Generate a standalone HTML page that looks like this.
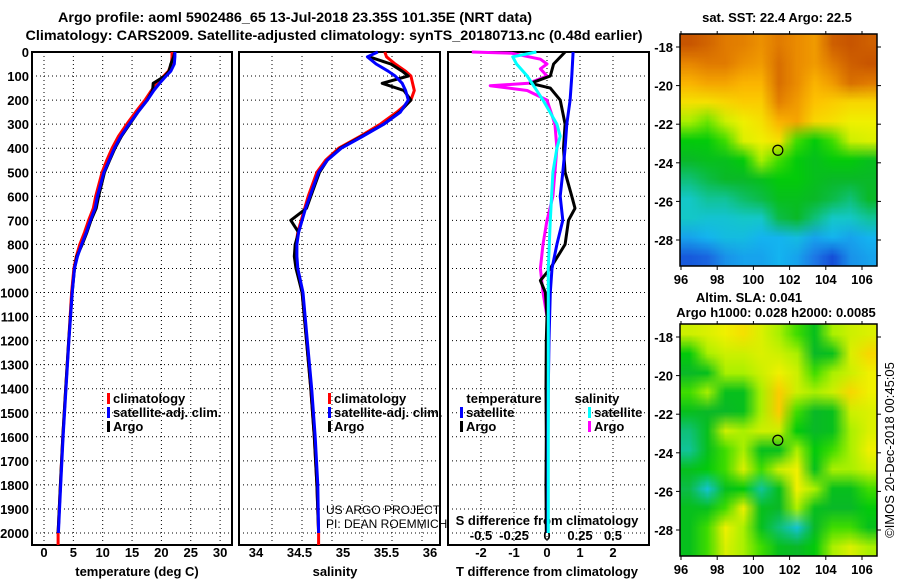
<!DOCTYPE html>
<html><head><meta charset="utf-8"><style>
body{margin:0;background:#fff;width:900px;height:580px;overflow:hidden;position:relative}
svg{position:absolute;left:0;top:0}
canvas{position:absolute}
text{font-family:"Liberation Sans",sans-serif;font-weight:bold;fill:#000}
</style></head><body>
<canvas id="m1" width="197" height="232" style="left:680px;top:34px"></canvas>
<canvas id="m2" width="197" height="232" style="left:680px;top:324px"></canvas>
<svg id="s" width="900" height="580"></svg>
<script>
const depths=[0,20,50,80,100,130,160,200,250,300,350,400,450,500,600,650,700,750,800,850,900,1000,1200,1400,1600,1800,2000];
const tClim=[21.8,21.8,21.7,21.2,20.4,19.3,18.3,17.2,15.6,14.1,12.7,11.6,10.7,9.9,8.8,8.4,7.6,6.9,6.1,5.5,5.1,4.7,4.2,3.7,3.2,2.8,2.4];
const tSat=[22.3,22.3,22.2,21.6,20.8,19.7,18.7,17.6,16.0,14.5,13.1,12.0,11.1,10.2,9.1,8.7,7.9,7.2,6.4,5.7,5.2,4.8,4.25,3.75,3.25,2.85,2.45];
const tArgo=[22.3,22.1,21.6,21.3,20.6,18.6,18.5,17.6,16.0,14.6,13.2,12.1,11.2,10.3,9.3,8.9,8.0,7.3,6.5,5.6,5.2,4.8,4.2,3.7,3.2,2.8,2.4];
const sClim=[35.48,35.5,35.6,35.72,35.78,35.8,35.82,35.78,35.62,35.43,35.2,34.95,34.8,34.7,34.6,34.56,34.52,34.48,34.46,34.46,34.47,34.53,34.58,34.63,34.67,34.7,34.72];
const sSat=[35.4,35.28,35.38,35.52,35.6,35.68,35.72,35.75,35.66,35.47,35.23,34.98,34.82,34.72,34.62,34.57,34.53,34.49,34.47,34.47,34.48,34.54,34.59,34.64,34.68,34.71,34.72];
const sArgo=[34.93,35.3,35.55,35.68,35.75,35.45,35.7,35.78,35.65,35.47,35.22,34.97,34.82,34.73,34.63,34.58,34.4,34.49,34.45,34.44,34.46,34.53,34.58,34.63,34.67,34.7,34.72];
const dTSat=[0,100,200,300,400,500,600,700,800,900,1000,1200,1400,1600,1800,2000];
const tSatDiff=[0.79,0.75,0.7,0.6,0.55,0.48,0.4,0.48,0.3,0.15,0.1,0.06,0.04,0.03,0.03,0.03];
const dTArgo=[0,50,100,130,150,200,300,400,500,600,650,700,800,900,950,1000,1100,1200,1400,1600,1800,2000];
const tArgoDiff=[0.55,0.2,0.1,-0.5,0.1,0.4,0.55,0.5,0.55,0.75,0.85,0.65,0.55,0.1,-0.2,-0.05,0,-0.02,-0.03,-0.02,-0.03,-0.02];
const dSSat=[0,20,50,100,200,300,350,400,500,600,700,900,1000,1200,2000];
const sSatDiff=[-0.08,-0.26,-0.23,-0.15,-0.03,0.075,0.1,0.075,0.045,0.035,0.025,0.01,0.01,0.01,0.01];
const dSArgo=[0,5,30,50,70,100,130,140,160,200,300,400,500,600,700,800,900,1000,1100,2000];
const sArgoDiff=[-0.57,-0.27,-0.05,0,-0.05,0,-0.14,-0.43,-0.15,0,0.06,0.075,0.06,0.045,0,-0.03,-0.05,-0.03,0,0];
const depthTicks=[0,100,200,300,400,500,600,700,800,900,1000,1100,1200,1300,1400,1500,1600,1700,1800,1900,2000];
const tTicks=[0,5,10,15,20,25,30];
const sTicks=[34,34.5,35,35.5,36];
const dtTicks=[-2,-1,0,1,2];
const dsTicks=[-0.5,-0.25,0,0.25,0.5];
const lonTicks=[96,98,100,102,104,106];
const latTicks=[-18,-20,-22,-24,-26,-28];
const sstGrid=[
[0.95,0.92,0.88,0.87,0.84,0.88,0.85,0.82,0.93,0.95,0.93],
[0.86,0.88,0.88,0.84,0.82,0.9,0.85,0.82,0.88,0.93,0.95],
[0.77,0.8,0.8,0.77,0.77,0.9,0.85,0.77,0.82,0.9,0.88],
[0.68,0.68,0.7,0.72,0.72,0.87,0.82,0.74,0.72,0.7,0.7],
[0.55,0.52,0.6,0.65,0.68,0.77,0.8,0.7,0.68,0.65,0.65],
[0.45,0.45,0.5,0.62,0.65,0.68,0.5,0.45,0.5,0.6,0.62],
[0.4,0.42,0.42,0.45,0.55,0.5,0.45,0.42,0.45,0.45,0.42],
[0.35,0.38,0.4,0.4,0.42,0.45,0.45,0.42,0.4,0.4,0.4],
[0.3,0.33,0.33,0.36,0.38,0.42,0.42,0.4,0.38,0.35,0.4],
[0.3,0.28,0.28,0.3,0.3,0.38,0.4,0.35,0.3,0.3,0.33],
[0.2,0.22,0.25,0.25,0.22,0.22,0.25,0.2,0.22,0.2,0.22],
[0.1,0.12,0.18,0.2,0.2,0.22,0.2,0.15,0.08,0.18,0.2]];
const slaGrid=[
[0.6,0.62,0.65,0.68,0.62,0.55,0.5,0.42,0.55,0.6,0.62],
[0.45,0.55,0.6,0.6,0.62,0.6,0.55,0.4,0.42,0.62,0.7],
[0.4,0.42,0.55,0.55,0.6,0.65,0.6,0.5,0.55,0.6,0.65],
[0.5,0.55,0.42,0.42,0.55,0.72,0.6,0.55,0.6,0.7,0.65],
[0.42,0.4,0.4,0.42,0.55,0.72,0.5,0.4,0.42,0.6,0.62],
[0.35,0.42,0.6,0.55,0.6,0.6,0.45,0.4,0.42,0.55,0.62],
[0.33,0.42,0.5,0.55,0.42,0.42,0.55,0.45,0.5,0.55,0.65],
[0.42,0.45,0.5,0.62,0.5,0.6,0.65,0.42,0.55,0.55,0.6],
[0.38,0.28,0.42,0.45,0.33,0.42,0.65,0.55,0.42,0.42,0.5],
[0.42,0.42,0.5,0.65,0.42,0.4,0.55,0.42,0.4,0.4,0.45],
[0.42,0.5,0.65,0.55,0.42,0.35,0.28,0.4,0.5,0.5,0.42],
[0.42,0.5,0.62,0.55,0.5,0.42,0.4,0.45,0.55,0.62,0.55]];
const floatLon=101.35, floatLat=-23.35;

const NS='http://www.w3.org/2000/svg';
const svg=document.getElementById('s');
function el(tag,attrs,parent){const e=document.createElementNS(NS,tag);for(const k in attrs)e.setAttribute(k,attrs[k]);(parent||svg).appendChild(e);return e;}
function txt(x,y,s,size,anchor,extra){const t=el('text',Object.assign({x:x,y:y,'font-size':size,'text-anchor':anchor||'middle'},extra||{}));t.textContent=s;return t;}
const yD=d=>52+d*0.2405;
const xT=v=>44+v*5.87;
const xS=v=>256+(v-34)*87;
const xDT=v=>547+v*33;
const xDS=v=>547+v*132;

let t;
t=txt(295,22,'Argo profile: aoml 5902486_65 13-Jul-2018 23.35S 101.35E (NRT data)',14,'middle',{textLength:474,lengthAdjust:'spacingAndGlyphs'});

t=txt(334,40,'Climatology: CARS2009. Satellite-adjusted climatology: synTS_20180713.nc (0.48d earlier)',14,'middle',{textLength:617,lengthAdjust:'spacingAndGlyphs'});


const panels=[{x0:32,x1:232,name:'temperature-panel'},{x0:239,x1:440,name:'salinity-panel'},{x0:448,x1:649,name:'difference-panel'}];
const grids=[tTicks.map(xT),[272,302,332,362,392,422],dtTicks.map(xDT)];
panels.forEach((p,i)=>{
  const g=el('g',{});
  
  
  depthTicks.forEach(d=>{if(d>0)el('line',{x1:p.x0,x2:p.x1,y1:yD(d),y2:yD(d),stroke:'#000','stroke-width':1,'stroke-dasharray':'1,3'},g);});
  grids[i].forEach(x=>el('line',{x1:x,x2:x,y1:52,y2:545,stroke:'#000','stroke-width':1,'stroke-dasharray':'1,3'},g));
  el('rect',{x:p.x0,y:52,width:p.x1-p.x0,height:493,fill:'none',stroke:'#000','stroke-width':2},g);
});
depthTicks.forEach(d=>{
  t=txt(29,yD(d)+5,String(d),13,'end');
  
  
});
tTicks.forEach(v=>{t=txt(xT(v),557,String(v),13);});
sTicks.forEach(v=>{t=txt(xS(v),557,String(v),13);});
dtTicks.forEach(v=>{t=txt(xDT(v),557,String(v),13);});
dsTicks.forEach(v=>{t=txt(xDS(v),540,String(v),13);});
t=txt(137,576,'temperature (deg C)',13);
t=txt(335,576,'salinity',13);
t=txt(547,576,'T difference from climatology',13);
t=txt(547,525,'S difference from climatology',13);

function line(xs,ds,xf,color,name){
  const pts=xs.map((v,i)=>xf(v).toFixed(1)+','+yD(ds[i]).toFixed(1)).join(' ');
  const l=el('polyline',{points:pts,fill:'none',stroke:color,'stroke-width':3,'stroke-linejoin':'round'});
  
  
  return l;
}
const dExt=depths.concat([2050]);
line(tClim.concat([tClim[tClim.length-1]]),dExt,xT,'#ff0000','temperature-climatology-line');
line(tArgo,depths,xT,'#000','temperature-argo-line');
line(tSat,depths,xT,'#0000ff','temperature-satellite-line');
line(sClim.concat([sClim[sClim.length-1]]),dExt,xS,'#ff0000','salinity-climatology-line');
line(sArgo.slice(1),depths.slice(1),xS,'#000','salinity-argo-line');
line(sSat,depths,xS,'#0000ff','salinity-satellite-line');
line(sArgoDiff,dSArgo,xDS,'#ff00ff','s-diff-argo-line');
line(tArgoDiff,dTArgo,xDT,'#000','t-diff-argo-line');
line(tSatDiff,dTSat,xDT,'#0000ff','t-diff-satellite-line');
line(sSatDiff,dSSat,xDS,'#00ffff','s-diff-satellite-line');

function legend(x,y,color,label,name){
  const g=el('g',{});
  
  
  el('rect',{x:x,y:y-10,width:3,height:11,fill:color},g);
  const tt=el('text',{x:x+6,y:y,'font-size':13},g);tt.textContent=label;
}
legend(107,403,'#ff0000','climatology','legend-climatology');
legend(107,417,'#0000ff','satellite-adj. clim.','legend-satellite-adj');
legend(107,431,'#000','Argo','legend-argo');
legend(328,403,'#ff0000','climatology','legend-climatology-s');
legend(328,417,'#0000ff','satellite-adj. clim.','legend-satellite-adj-s');
legend(328,431,'#000','Argo','legend-argo-s');
t=txt(504,403,'temperature',13);
legend(460,417,'#0000ff','satellite','legend-t-satellite');
legend(460,431,'#000','Argo','legend-t-argo');
t=txt(597,403,'salinity',13);
legend(588,417,'#00ffff','satellite','legend-s-satellite');
legend(588,431,'#ff00ff','Argo','legend-s-argo');
t=txt(326,514,'US ARGO PROJECT',12,'start',{style:'font-weight:normal'});
t=txt(326,528,'PI: DEAN ROEMMICH',12,'start',{style:'font-weight:normal'});

const stops=[[0,[10,30,200]],[0.15,[30,120,230]],[0.22,[20,180,240]],[0.3,[20,200,200]],[0.4,[10,185,40]],[0.47,[0,210,0]],[0.55,[170,240,0]],[0.65,[240,240,0]],[0.75,[255,190,0]],[0.85,[235,140,0]],[0.95,[200,85,0]],[1,[180,60,0]]];
function cmap(v){for(let i=1;i<stops.length;i++){if(v<=stops[i][0]){const a=stops[i-1],b=stops[i],f=(v-a[0])/(b[0]-a[0]);return a[1].map((c,k)=>Math.round(c+(b[1][k]-c)*f));}}return stops[stops.length-1][1];}
function drawMap(id,grid){
  const small=document.createElement('canvas');small.width=grid[0].length;small.height=grid.length;
  const sc=small.getContext('2d');const im=sc.createImageData(small.width,small.height);
  grid.forEach((row,r)=>row.forEach((v,c)=>{const col=cmap(v),o=(r*small.width+c)*4;im.data[o]=col[0];im.data[o+1]=col[1];im.data[o+2]=col[2];im.data[o+3]=255;}));
  sc.putImageData(im,0,0);
  const ctx=document.getElementById(id).getContext('2d');ctx.imageSmoothingEnabled=true;ctx.drawImage(small,0,0,197,232);
}
drawMap('m1',sstGrid);drawMap('m2',slaGrid);
const lonX=l=>681+(l-96)*18.1;
[[34,266,47,'sst'],[324,556,337,'sla']].forEach(([top,bot,y18,nm])=>{
  const latY=l=>y18+(-18-l)*19.3;
  const g=el('g',{});
  
  
  el('rect',{x:680,y:top,width:197,height:bot-top,fill:'none',stroke:'#000','stroke-width':1.5},g);
  lonTicks.forEach(l=>{el('line',{x1:lonX(l),x2:lonX(l),y1:bot,y2:bot+4,stroke:'#000'},g);el('line',{x1:lonX(l),x2:lonX(l),y1:top,y2:top-3,stroke:'#000'},g);
    const tt=el('text',{x:lonX(l),y:bot+18,'font-size':13,'text-anchor':'middle'},g);tt.textContent=String(l);});
  latTicks.forEach(l=>{el('line',{x1:676,x2:680,y1:latY(l),y2:latY(l),stroke:'#000'},g);el('line',{x1:877,x2:881,y1:latY(l),y2:latY(l),stroke:'#000'},g);
    const tt=el('text',{x:673,y:latY(l)+5,'font-size':13,'text-anchor':'end'},g);tt.textContent=String(l);});
  const c=el('circle',{cx:lonX(floatLon),cy:latY(floatLat),r:5,fill:'none',stroke:'#000','stroke-width':1.2});
  
  
});
t=txt(777,22,'sat. SST: 22.4 Argo: 22.5',13);
t=txt(749,302,'Altim. SLA: 0.041',13);
t=txt(776,317,'Argo h1000: 0.028 h2000: 0.0085',13);
t=txt(0,0,'©IMOS 20-Dec-2018 00:45:05',13,'middle',{transform:'translate(894,450) rotate(-90)',style:'font-weight:normal'});

</script>
</body></html>
